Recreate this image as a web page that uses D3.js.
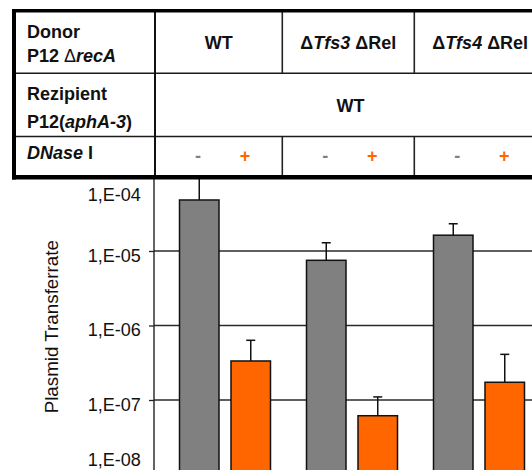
<!DOCTYPE html>
<html>
<head>
<meta charset="utf-8">
<script src="https://cdn.jsdelivr.net/npm/d3@7"></script>
<style>
  html, body { margin: 0; padding: 0; background: #fff; }
  svg { display: block; }
  text { font-family: "Liberation Sans", Arial, Helvetica, sans-serif; }
</style>
</head>
<body>
<script>
// Donor strains (one bar pair per strain)
const groups = ["WT", "ΔTfs3 ΔRel", "ΔTfs4 ΔRel"];
// DNase I treatment: without (-) and with (+)
const treatments = ["-", "+"];
// Plasmid transfer rate (mean) per strain, without / with DNase I
const rateNoDNase = [4.84e-5, 7.5e-6, 1.63e-5];
const rateDNase = [3.34e-7, 6.15e-8, 1.73e-7];
// Upper end of the error bars
const errTopNoDNase = [1.1e-4, 1.29e-5, 2.32e-5];
const errTopDNase = [6.33e-7, 1.1e-7, 4.1e-7];
// Y axis ticks and their labels
const yTicks = [1e-4, 1e-5, 1e-6, 1e-7, 1e-8];
const yTickLabels = ["1,E-04", "1,E-05", "1,E-06", "1,E-07", "1,E-08"];
const yTitle = "Plasmid Transferrate";

const W = 532, H = 470;
const FONT = 18;
const colors = { "-": "#808080", "+": "#ff6600" };

const svg = d3.select("body").append("svg")
  .attr("width", W).attr("height", H);

// ---------- bar chart ----------
const axisX = 154;
const y = d3.scaleLog().domain([1e-8, 1e-4]).range([474.5, 176.5]);
const x = d3.scaleBand().domain(groups).range([161.5, 542.5])
  .paddingInner(0.2835).paddingOuter(0.14175);
const xs = d3.scaleBand().domain(treatments).range([0, x.bandwidth()])
  .paddingInner(0.233);

const rows = [];
groups.forEach((g, i) => {
  rows.push({ g, t: "-", v: rateNoDNase[i], e: errTopNoDNase[i] });
  rows.push({ g, t: "+", v: rateDNase[i], e: errTopDNase[i] });
});

const chart = svg.append("g");

// horizontal grid lines
chart.append("g").selectAll("line")
  .data(yTicks.filter(v => v < 1e-4 && v > 1e-8))
  .join("line")
  .attr("x1", axisX).attr("x2", W)
  .attr("y1", d => y(d)).attr("y2", d => y(d))
  .attr("stroke", "#2a2a2a").attr("stroke-width", 1.3);

// y axis (line + outer ticks) using d3.axisLeft
const yAxis = d3.axisLeft(y).tickValues(yTicks).tickSize(5).tickFormat("");
const ag = chart.append("g").attr("transform", `translate(${axisX},0)`).call(yAxis);
ag.select(".domain").attr("stroke", "#222").attr("stroke-width", 1.4)
  .attr("d", `M-0,${y.range()[1]}V${H + 10}`);
ag.selectAll(".tick line").attr("stroke", "#222").attr("stroke-width", 1.3);

// tick labels; the end labels are pulled inward so they stay in view
chart.append("g").selectAll("text")
  .data(yTicks)
  .join("text")
  .attr("x", 140.7)
  .attr("y", (d, i) => {
    let py = y(d);
    if (i === 0) py += 14;
    if (i === yTicks.length - 1) py -= 19.5;
    return py + 10.7;
  })
  .attr("text-anchor", "end")
  .attr("font-size", FONT)
  .attr("fill", "#111")
  .text((d, i) => yTickLabels[i]);

// y axis title
chart.append("text")
  .attr("transform", "translate(58.3,326.7) rotate(-90)")
  .attr("text-anchor", "middle")
  .attr("font-size", 18.8)
  .attr("fill", "#111")
  .text(yTitle);

// bars
chart.append("g").selectAll("rect")
  .data(rows)
  .join("rect")
  .attr("x", d => x(d.g) + xs(d.t))
  .attr("width", xs.bandwidth())
  .attr("y", d => y(d.v))
  .attr("height", d => y.range()[0] - y(d.v))
  .attr("fill", d => colors[d.t])
  .attr("stroke", "#111")
  .attr("stroke-width", 1.5);

// error bars
const eb = chart.append("g").attr("stroke", "#111").attr("stroke-width", 1.5);
eb.selectAll("line.v").data(rows).join("line").attr("class", "v")
  .attr("x1", d => x(d.g) + xs(d.t) + xs.bandwidth() / 2)
  .attr("x2", d => x(d.g) + xs(d.t) + xs.bandwidth() / 2)
  .attr("y1", d => y(d.v)).attr("y2", d => y(d.e));
eb.selectAll("line.c").data(rows).join("line").attr("class", "c")
  .attr("x1", d => x(d.g) + xs(d.t) + xs.bandwidth() / 2 - 4.5)
  .attr("x2", d => x(d.g) + xs(d.t) + xs.bandwidth() / 2 + 4.5)
  .attr("y1", d => y(d.e)).attr("y2", d => y(d.e));

// ---------- strain / treatment table ----------
const colEdges = [14, 155, 282.3, 414.3, 546];
const rowEdges = [10.7, 73.3, 136.5, 177.3];
const tbl = svg.append("g");

tbl.append("rect")
  .attr("x", colEdges[0]).attr("y", rowEdges[0])
  .attr("width", colEdges[4] - colEdges[0])
  .attr("height", rowEdges[3] - rowEdges[0])
  .attr("fill", "#fff");

// inner row lines
tbl.selectAll("line.row").data([rowEdges[1], rowEdges[2]]).join("line")
  .attr("class", "row")
  .attr("x1", colEdges[0]).attr("x2", colEdges[4])
  .attr("y1", d => d).attr("y2", d => d)
  .attr("stroke", "#1a1a1a").attr("stroke-width", 1.6);

// first column divider spans all rows
tbl.append("line")
  .attr("x1", colEdges[1]).attr("x2", colEdges[1])
  .attr("y1", rowEdges[0]).attr("y2", rowEdges[3])
  .attr("stroke", "#111").attr("stroke-width", 2);

// strain dividers in the donor and DNase rows (recipient row is merged)
[colEdges[2], colEdges[3]].forEach(cx => {
  [[rowEdges[0], rowEdges[1]], [rowEdges[2], rowEdges[3]]].forEach(([a, b]) => {
    tbl.append("line")
      .attr("x1", cx).attr("x2", cx).attr("y1", a).attr("y2", b)
      .attr("stroke", "#222").attr("stroke-width", 1.6);
  });
});

// thick outer frame
tbl.append("line").attr("x1", colEdges[0]).attr("x2", colEdges[0])
  .attr("y1", 9).attr("y2", 179.5).attr("stroke", "#000").attr("stroke-width", 4);
tbl.append("line").attr("x1", 12).attr("x2", colEdges[4])
  .attr("y1", rowEdges[0]).attr("y2", rowEdges[0])
  .attr("stroke", "#000").attr("stroke-width", 3.5);
tbl.append("line").attr("x1", 12).attr("x2", colEdges[4])
  .attr("y1", rowEdges[3]).attr("y2", rowEdges[3])
  .attr("stroke", "#000").attr("stroke-width", 4.5);

// text helper: runs of [text, italic, bold]
function rich(x0, y0, runs, anchor) {
  const t = tbl.append("text")
    .attr("x", x0).attr("y", y0)
    .attr("font-size", FONT)
    .attr("fill", "#111")
    .attr("text-anchor", anchor || "start");
  runs.forEach(([s, it, bold]) => {
    t.append("tspan")
      .attr("font-style", it ? "italic" : "normal")
      .attr("font-weight", bold === false ? "normal" : "bold")
      .text(s);
  });
  return t;
}

// row headers
rich(27, 37.5, [["Donor", false]]);
rich(27, 62, [["P12 ", false], ["Δ", false, false], ["recA", true]]);
rich(27, 100, [["Rezipient", false]]);
rich(27, 128, [["P12(", false], ["aphA-3", true], [")", false]]);
rich(27, 159, [["DNase", true], [" I", false]]);

// donor strain headers
const strainRuns = [
  [["WT", false]],
  [["Δ", false], ["Tfs3", true], [" ΔRel", false]],
  [["Δ", false], ["Tfs4", true], [" ΔRel", false]]
];
groups.forEach((g, i) => {
  rich((colEdges[i + 1] + colEdges[i + 2]) / 2, 49.3, strainRuns[i], "middle");
});

// recipient (merged cell)
rich((colEdges[1] + colEdges[4]) / 2, 111.7, [["WT", false]], "middle");

// DNase I - / + markers
const signOffset = { "-": 43, "+": 90 };
groups.forEach((g, i) => {
  treatments.forEach(t => {
    tbl.append("text")
      .attr("x", colEdges[i + 1] + signOffset[t])
      .attr("y", 161.5)
      .attr("text-anchor", "middle")
      .attr("font-size", FONT)
      .attr("font-weight", "bold")
      .attr("fill", colors[t])
      .text(t);
  });
});
</script>
</body>
</html>
